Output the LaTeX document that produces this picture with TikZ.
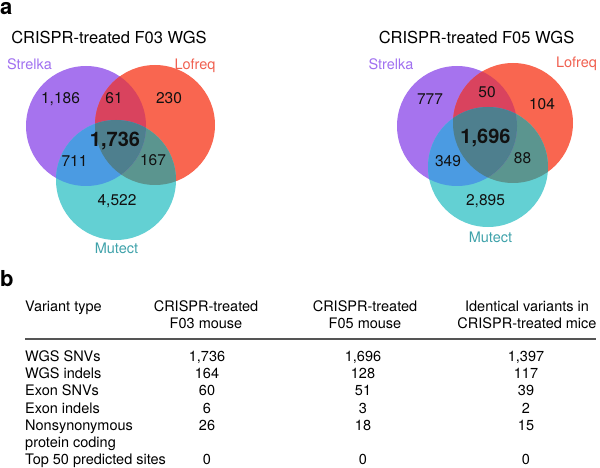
\documentclass[tikz,border=0pt]{standalone}
\usepackage{fontspec}
\setmainfont{TeX Gyre Heros}
\definecolor{strelka}{HTML}{A673EE}
\definecolor{lofreq}{HTML}{F96650}
\definecolor{mutect}{HTML}{63D0D3}
\definecolor{strelkalofreq}{HTML}{D9435E}
\definecolor{strelkamutect}{HTML}{4B9BE2}
\definecolor{lofreqmutect}{HTML}{5B958F}
\definecolor{allthree}{HTML}{4E7F8E}
\definecolor{strelkatext}{HTML}{A070F0}
\definecolor{lofreqtext}{HTML}{F06050}
\definecolor{mutecttext}{HTML}{3FA2AA}
\definecolor{numtext}{HTML}{111111}
\definecolor{rulegrey}{HTML}{555555}

\begin{document}
\begin{tikzpicture}[x=1pt,y=-1pt,
  panel/.style={anchor=base west,inner sep=0pt,font=\fontsize{22}{24}\selectfont\bfseries},
  title/.style={anchor=base,inner sep=0pt,font=\fontsize{16.5}{19}\selectfont},
  caller/.style={anchor=base,inner sep=0pt,font=\fontsize{14.5}{17}\selectfont},
  count/.style={anchor=base,inner sep=0pt,font=\fontsize{15.5}{18}\selectfont,text=numtext},
  core/.style={count,font=\fontsize{20}{22}\selectfont\bfseries},
  head/.style={anchor=base,inner sep=0pt,font=\fontsize{14.5}{17}\selectfont},
  rowname/.style={anchor=base west,inner sep=0pt,font=\fontsize{14.5}{17}\selectfont},
  cell/.style={anchor=base,inner sep=0pt,font=\fontsize{14.5}{17}\selectfont}
]
\useasboundingbox (0,0) rectangle (600,468);

% panel a, F03
\fill[strelka] (86,126) circle[radius=60pt];
\fill[lofreq] (155,125) circle[radius=60pt];
\fill[mutect] (116,180) circle[radius=60pt];
\begin{scope}
  \clip (155,125) circle[radius=60pt];
  \fill[lofreqmutect] (116,180) circle[radius=60pt];
\end{scope}
\begin{scope}
  \clip (86,126) circle[radius=60pt];
  \fill[strelkalofreq] (155,125) circle[radius=60pt];
  \fill[strelkamutect] (116,180) circle[radius=60pt];
  \clip (155,125) circle[radius=60pt];
  \fill[allthree] (116,180) circle[radius=60pt];
\end{scope}
\node[panel] (a) at (0,15) {a};
\node[title] (f03title) at (109,44) {CRISPR-treated F03 WGS};
\node[caller,text=strelkatext] (f03strelka) at (29.5,70) {Strelka};
\node[caller,text=lofreqtext] (f03lofreq) at (195,70) {Lofreq};
\node[caller,text=mutecttext] (f03mutect) at (116.5,253) {Mutect};
\node[count] (f03s) at (60.5,104) {1,186};
\node[count] (f03sl) at (114,104) {61};
\node[count] (f03l) at (169,104) {230};
\node[core] (f03slm) at (115,147) {1,736};
\node[count] (f03sm) at (74.5,167) {711};
\node[count] (f03lm) at (153,165) {167};
\node[count] (f03m) at (117,205) {4,522};

% panel a, F05
\fill[strelka] (457,126) circle[radius=60pt];
\fill[lofreq] (513,123) circle[radius=60pt];
\fill[mutect] (488,167) circle[radius=60pt];
\begin{scope}
  \clip (513,123) circle[radius=60pt];
  \fill[lofreqmutect] (488,167) circle[radius=60pt];
\end{scope}
\begin{scope}
  \clip (457,126) circle[radius=60pt];
  \fill[strelkalofreq] (513,123) circle[radius=60pt];
  \fill[strelkamutect] (488,167) circle[radius=60pt];
  \clip (513,123) circle[radius=60pt];
  \fill[allthree] (488,167) circle[radius=60pt];
\end{scope}
\node[title] (f05title) at (476.5,44) {CRISPR-treated F05 WGS};
\node[caller,text=strelkatext] (f05strelka) at (391,70) {Strelka};
\node[caller,text=lofreqtext] (f05lofreq) at (576.5,68) {Lofreq};
\node[caller,text=mutecttext] (f05mutect) at (490.5,242) {Mutect};
\node[count] (f05s) at (430,105) {777};
\node[count] (f05sl) at (487,98) {50};
\node[count] (f05l) at (542,110) {104};
\node[core] (f05slm) at (485.5,144) {1,696};
\node[count] (f05sm) at (448,167) {349};
\node[count] (f05lm) at (522.5,164) {88};
\node[count] (f05m) at (485.5,205) {2,895};

% panel b
\node[panel] (b) at (0,286) {b};
\node[rowname] (typehead) at (25,311) {Variant type};
\node[head] (f03head) at (206,311) {CRISPR-treated};
\node[head] (f03head2) at (206,328) {F03 mouse};
\node[head] (f05head) at (365,311) {CRISPR-treated};
\node[head] (f05head2) at (365,328) {F05 mouse};
\node[head] (samehead) at (527,311) {Identical variants in};
\node[head] (samehead2) at (527,328) {CRISPR-treated mice};
\draw[rulegrey,line width=1.1pt] (25,339) -- (596,339);

\node[rowname] (wgssnv) at (25,361) {WGS SNVs};
\node[rowname] (wgsindel) at (25,378.3) {WGS indels};
\node[rowname] (exonsnv) at (25,395.6) {Exon SNVs};
\node[rowname] (exonindel) at (25,413) {Exon indels};
\node[rowname] (nonsyn) at (25,430.2) {Nonsynonymous};
\node[rowname] (nonsyn2) at (25,447.5) {protein coding};
\node[rowname] (top50) at (25,464.8) {Top 50 predicted sites};

\node[cell] (wgssnv1) at (207,361) {1,736};
\node[cell] (wgssnv2) at (363,361) {1,696};
\node[cell] (wgssnv3) at (526,361) {1,397};
\node[cell] (wgsindel1) at (207,378.3) {164};
\node[cell] (wgsindel2) at (363,378.3) {128};
\node[cell] (wgsindel3) at (526,378.3) {117};
\node[cell] (exonsnv1) at (207,395.6) {60};
\node[cell] (exonsnv2) at (363,395.6) {51};
\node[cell] (exonsnv3) at (526,395.6) {39};
\node[cell] (exonindel1) at (207,413) {6};
\node[cell] (exonindel2) at (363,413) {3};
\node[cell] (exonindel3) at (526,413) {2};
\node[cell] (nonsyn1) at (207,430.2) {26};
\node[cell] (nonsyn2b) at (363,430.2) {18};
\node[cell] (nonsyn3) at (526,430.2) {15};
\node[cell] (top501) at (207,464.8) {0};
\node[cell] (top502) at (363,464.8) {0};
\node[cell] (top503) at (526,464.8) {0};
\end{tikzpicture}
\end{document}
